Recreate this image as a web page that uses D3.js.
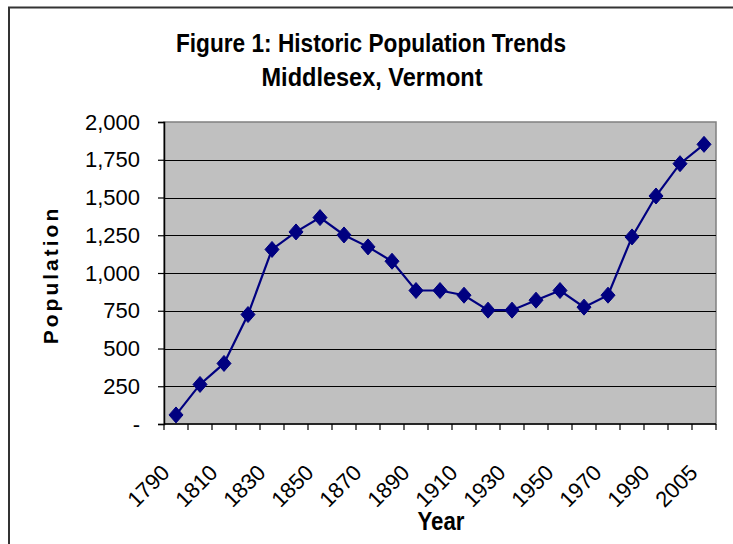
<!DOCTYPE html>
<html>
<head>
<meta charset="utf-8">
<script src="https://cdn.jsdelivr.net/npm/d3@7"></script>
<style>
  html, body { margin: 0; padding: 0; background: #fff; }
  svg { display: block; }
</style>
</head>
<body>
<svg id="chart" width="733" height="544"></svg>
<script>
const years = ["1790","1800","1810","1820","1830","1840","1850","1860","1870","1880","1890","1900","1910","1920","1930","1940","1950","1960","1970","1980","1990","2000","2005"];
const population = [60, 262, 401, 725, 1156, 1272, 1367, 1252, 1173, 1078, 884, 884, 853, 754, 754, 820, 884, 774, 853, 1239, 1510, 1724, 1852];
const yTicks = [0, 250, 500, 750, 1000, 1250, 1500, 1750, 2000];
const xLabelYears = ["1790","1810","1830","1850","1870","1890","1910","1930","1950","1970","1990","2005"];
const titleLines = ["Figure 1: Historic Population Trends", "Middlesex, Vermont"];

(function () {
const svg = d3.select("#chart");
const pL = 164, pR = 716, pT = 122, pB = 424;
const sans = "'Liberation Sans', Arial, sans-serif";

// outer chart border
svg.append("rect").attr("x", 9).attr("y", 7.5).attr("width", 740).attr("height", 560)
  .attr("fill", "#fff").attr("stroke", "#333").attr("stroke-width", 2);

const x = d3.scaleBand().domain(years).range([pL, pR]).paddingInner(0).paddingOuter(0);
const y = d3.scaleLinear().domain([0, 2000]).range([pB, pT]);

// plot background
svg.append("rect").attr("x", pL).attr("y", pT).attr("width", pR - pL).attr("height", pB - pT)
  .attr("fill", "#C0C0C0").attr("stroke", "#808080").attr("stroke-width", 1.5);

// gridlines
svg.append("g").selectAll("line").data(yTicks.filter(d => d > 0 && d < 2000)).join("line")
  .attr("x1", pL).attr("x2", pR)
  .attr("y1", d => Math.round(y(d)) + 0.5).attr("y2", d => Math.round(y(d)) + 0.5)
  .attr("stroke", "#000").attr("stroke-width", 1.2);

// y axis
const yAxis = d3.axisLeft(y).tickValues(yTicks).tickSize(6).tickPadding(18)
  .tickFormat(d => d === 0 ? "-" : d3.format(",")(d));
const gy = svg.append("g").attr("transform", `translate(${pL},0)`).call(yAxis);
gy.select(".domain").attr("stroke", "#000").attr("stroke-width", 1.5);
gy.selectAll(".tick line").attr("stroke", "#000").attr("stroke-width", 1.2);
gy.selectAll(".tick text").attr("font-family", sans).attr("font-size", 22).attr("fill", "#000");

// x axis: ticks at category boundaries
const boundaries = years.map(d => x(d)).concat([pR]);
const gx = svg.append("g");
gx.append("line").attr("x1", pL).attr("x2", pR).attr("y1", pB).attr("y2", pB)
  .attr("stroke", "#000").attr("stroke-width", 1.5);
gx.selectAll("line.tk").data(boundaries).join("line").attr("class", "tk")
  .attr("x1", d => d).attr("x2", d => d).attr("y1", pB).attr("y2", pB + 6)
  .attr("stroke", "#000").attr("stroke-width", 1.2);
gx.selectAll("text").data(xLabelYears).join("text")
  .attr("transform", d => `translate(${x(d) + x.bandwidth() / 2 - 5},474) rotate(-45)`)
  .attr("text-anchor", "end")
  .attr("font-family", sans).attr("font-size", 22).attr("fill", "#000")
  .text(d => d);

// line
const line = d3.line().x((d, i) => x(years[i]) + x.bandwidth() / 2).y(d => y(d));
svg.append("path").datum(population).attr("d", line)
  .attr("fill", "none").attr("stroke", "#000080").attr("stroke-width", 2.2);

// diamond markers
const rx = 7, ry = 8;
svg.append("g").selectAll("path").data(population).join("path")
  .attr("transform", (d, i) => `translate(${x(years[i]) + x.bandwidth() / 2},${y(d)})`)
  .attr("d", `M0,${-ry}L${rx},0L0,${ry}L${-rx},0Z`)
  .attr("fill", "#000080").attr("stroke", "#000080").attr("stroke-width", 1);

// titles (condensed bold look)
svg.append("text").attr("x", 371).attr("y", 52).attr("text-anchor", "middle")
  .attr("font-family", sans).attr("font-weight", "bold").attr("font-size", 25).attr("fill", "#000")
  .attr("textLength", 390).attr("lengthAdjust", "spacingAndGlyphs")
  .text(titleLines[0]);
svg.append("text").attr("x", 372).attr("y", 86).attr("text-anchor", "middle")
  .attr("font-family", sans).attr("font-weight", "bold").attr("font-size", 25).attr("fill", "#000")
  .attr("textLength", 221).attr("lengthAdjust", "spacingAndGlyphs")
  .text(titleLines[1]);

// axis titles
svg.append("text").attr("x", 441).attr("y", 530).attr("text-anchor", "middle")
  .attr("font-family", sans).attr("font-weight", "bold").attr("font-size", 25).attr("fill", "#000")
  .attr("textLength", 47).attr("lengthAdjust", "spacingAndGlyphs")
  .text("Year");
svg.append("text").attr("transform", "translate(58,275) rotate(-90)").attr("text-anchor", "middle")
  .attr("font-family", sans).attr("font-weight", "bold").attr("font-size", 21).attr("letter-spacing", 3)
  .attr("fill", "#000").text("Population");
})();
</script>
</body>
</html>
